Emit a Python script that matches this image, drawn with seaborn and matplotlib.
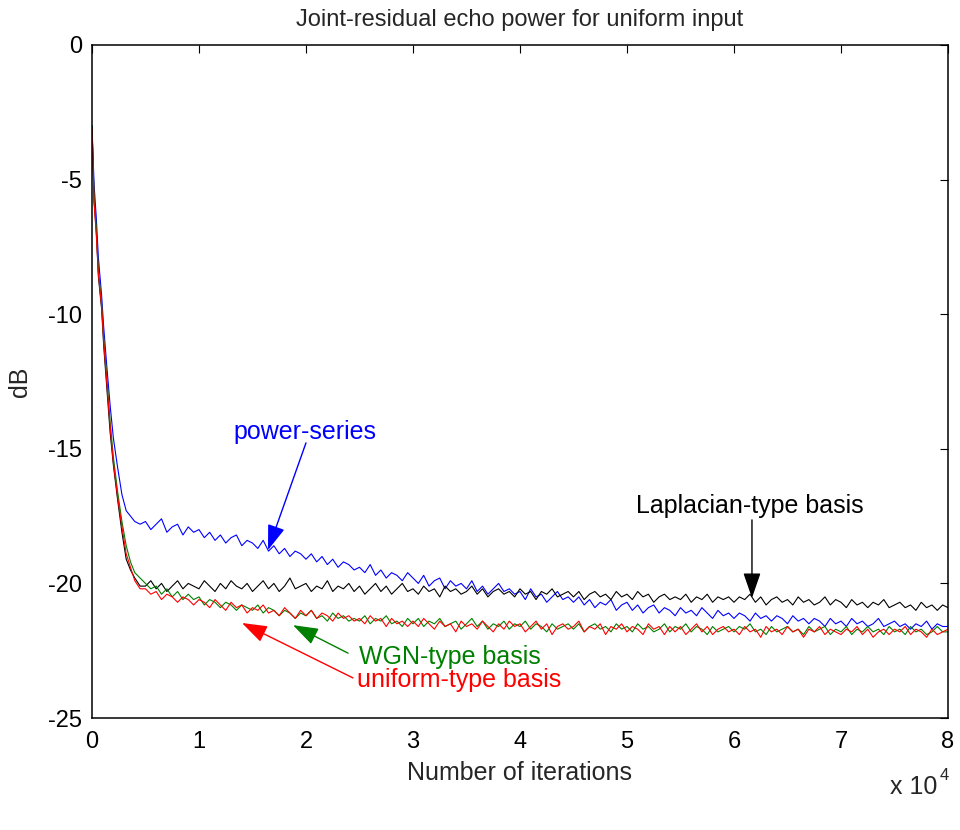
import numpy as np
import pandas as pd
import matplotlib
matplotlib.use("Agg")
import matplotlib.pyplot as plt
import seaborn as sns

sns.set_theme(style="white")
plt.rcParams['font.family'] = ['Liberation Sans', 'DejaVu Sans']

# iteration grid: dense at the start, then every 500
x_early = [0, 200, 400, 600, 900, 1100, 1400, 1700, 2000, 2400, 2800, 3200, 3600, 4000, 4500]
x_tail = list(range(5000, 80001, 500))
iters = x_early + x_tail

# values (dB)
power_series = [-3.0, -5.2, -6.4, -7.9, -9.3, -10.5, -12.0, -13.4, -14.6, -15.7, -16.7, -17.3, -17.5, -17.7, -17.8,
                -17.7, -18.0, -17.8, -17.6, -18.1, -17.9, -17.8, -18.2, -17.9, -18.1,
                -18.0, -18.3, -18.1, -18.4, -18.2, -18.5, -18.3, -18.2, -18.6, -18.4,
                -18.5, -18.7, -18.4, -18.8, -18.6, -18.9, -18.7, -19.0, -18.8, -18.9,
                -19.1, -18.9, -19.2, -19.0, -19.3, -19.1, -19.4, -19.2, -19.3, -19.5,
                -19.4, -19.6, -19.3, -19.7, -19.5, -19.8, -19.6, -19.7, -19.9, -19.6,
                -19.8, -20.0, -19.7, -20.1, -19.9, -19.8, -20.2, -19.9, -20.1, -20.0,
                -20.2, -19.9, -20.3, -20.1, -20.4, -20.2, -20.0, -20.3, -20.2, -20.4,
                -20.3, -20.6, -20.2, -20.5, -20.4, -20.7, -20.5, -20.3, -20.6, -20.5,
                -20.7, -20.5, -20.8, -20.6, -20.9, -20.7, -20.8, -20.6, -21.0, -20.8,
                -20.7, -21.0, -20.8, -21.1, -20.9, -20.8, -21.1, -20.9, -21.0, -21.2,
                -20.9, -21.1, -21.0, -21.2, -20.9, -21.1, -21.3, -21.0, -21.2, -21.1,
                -21.3, -21.1, -21.2, -21.4, -21.1, -21.3, -21.2, -21.4, -21.2, -21.3,
                -21.5, -21.2, -21.4, -21.3, -21.5, -21.3, -21.4, -21.6, -21.3, -21.5,
                -21.4, -21.6, -21.3, -21.5, -21.4, -21.6, -21.5, -21.3, -21.6, -21.5,
                -21.4, -21.6, -21.5, -21.7, -21.5, -21.6, -21.4, -21.7, -21.5, -21.6,
                -21.6]

laplacian = [-3.0, -5.8, -6.9, -8.6, -9.8, -11.2, -12.8, -14.4, -15.6, -16.9, -18.1, -19.1, -19.5, -19.8, -20.1,
             -20.1, -19.9, -20.2, -20.0, -20.3, -20.1, -19.9, -20.2, -20.0, -20.1,
             -20.2, -19.9, -20.1, -20.3, -20.0, -20.2, -19.9, -20.1, -20.2, -20.0,
             -20.3, -20.1, -19.9, -20.2, -20.0, -20.3, -20.1, -19.8, -20.2, -20.1,
             -20.0, -20.3, -20.1, -20.2, -19.9, -20.3, -20.1, -20.2, -20.0, -20.3,
             -20.1, -20.4, -20.2, -20.0, -20.3, -20.1, -20.4, -20.2, -20.0, -20.3,
             -20.2, -20.4, -20.1, -20.3, -20.2, -20.5, -20.1, -20.3, -20.2, -20.4,
             -20.3, -20.1, -20.4, -20.2, -20.5, -20.3, -20.2, -20.4, -20.3, -20.5,
             -20.2, -20.4, -20.3, -20.6, -20.3, -20.4, -20.2, -20.5, -20.4, -20.3,
             -20.5, -20.3, -20.6, -20.4, -20.3, -20.5, -20.4, -20.6, -20.3, -20.5,
             -20.4, -20.6, -20.3, -20.5, -20.4, -20.7, -20.5, -20.4, -20.6, -20.5,
             -20.6, -20.4, -20.7, -20.5, -20.6, -20.4, -20.7, -20.5, -20.6, -20.5,
             -20.7, -20.5, -20.6, -20.4, -20.7, -20.5, -20.8, -20.6, -20.5, -20.7,
             -20.6, -20.8, -20.5, -20.7, -20.6, -20.8, -20.7, -20.5, -20.8, -20.6,
             -20.7, -20.9, -20.6, -20.8, -20.7, -20.9, -20.7, -20.8, -20.6, -20.9,
             -20.8, -20.7, -20.9, -20.8, -21.0, -20.7, -20.9, -20.8, -21.0, -20.8,
             -20.9]

wgn = [-3.0, -5.7, -6.8, -8.4, -9.6, -10.9, -12.4, -14.0, -15.3, -16.6, -17.7, -18.6, -19.2, -19.6, -19.8,
       -20.0, -20.2, -20.1, -20.4, -20.2, -20.5, -20.3, -20.6, -20.4, -20.6,
       -20.5, -20.8, -20.6, -20.7, -20.9, -20.7, -20.8, -21.0, -20.8, -20.9,
       -21.0, -20.8, -21.1, -20.9, -21.0, -21.2, -21.0, -21.1, -21.3, -21.1,
       -21.2, -21.0, -21.3, -21.2, -21.4, -21.1, -21.3, -21.2, -21.4, -21.3,
       -21.4, -21.2, -21.5, -21.3, -21.4, -21.2, -21.5, -21.4, -21.6, -21.3,
       -21.5, -21.3, -21.6, -21.4, -21.5, -21.3, -21.6, -21.5, -21.4, -21.7,
       -21.5, -21.3, -21.6, -21.4, -21.7, -21.5, -21.6, -21.4, -21.7, -21.5,
       -21.6, -21.4, -21.7, -21.5, -21.6, -21.8, -21.5, -21.7, -21.6, -21.5,
       -21.7, -21.5, -21.8, -21.6, -21.5, -21.7, -21.6, -21.8, -21.5, -21.7,
       -21.6, -21.8, -21.5, -21.7, -21.6, -21.8, -21.7, -21.5, -21.8, -21.6,
       -21.7, -21.5, -21.8, -21.6, -21.7, -21.9, -21.6, -21.8, -21.7, -21.6,
       -21.8, -21.6, -21.7, -21.5, -21.8, -21.7, -21.9, -21.6, -21.8, -21.7,
       -21.6, -21.8, -21.7, -21.9, -21.6, -21.8, -21.7, -21.6, -21.9, -21.7,
       -21.8, -21.6, -21.9, -21.7, -21.8, -21.6, -21.8, -21.7, -21.9, -21.6,
       -21.8, -21.7, -21.9, -21.6, -21.8, -21.7, -21.9, -21.8, -21.6, -21.8,
       -21.8]

uniform = [-3.1, -5.9, -7.0, -8.5, -9.7, -11.0, -12.6, -14.2, -15.5, -16.8, -17.9, -18.9, -19.4, -19.9, -20.2,
           -20.2, -20.4, -20.3, -20.6, -20.4, -20.5, -20.7, -20.5, -20.6, -20.8,
           -20.6, -20.7, -20.9, -20.6, -20.8, -21.0, -20.7, -20.9, -20.8, -21.1,
           -20.9, -21.0, -20.8, -21.1, -21.0, -21.2, -20.9, -21.1, -21.3, -21.0,
           -21.2, -21.0, -21.3, -21.1, -21.2, -21.4, -21.1, -21.3, -21.2, -21.4,
           -21.3, -21.5, -21.2, -21.4, -21.3, -21.6, -21.3, -21.5, -21.4, -21.6,
           -21.4, -21.6, -21.3, -21.5, -21.7, -21.4, -21.6, -21.5, -21.8, -21.4,
           -21.6, -21.5, -21.7, -21.4, -21.6, -21.8, -21.5, -21.7, -21.4, -21.6,
           -21.5, -21.8, -21.6, -21.4, -21.7, -21.5, -21.9, -21.6, -21.5, -21.7,
           -21.6, -21.4, -21.8, -21.6, -21.7, -21.5, -21.9, -21.6, -21.7, -21.5,
           -21.8, -21.6, -21.7, -21.9, -21.5, -21.7, -21.6, -21.9, -21.6, -21.8,
           -21.6, -21.9, -21.7, -21.5, -21.8, -21.6, -21.9, -21.7, -21.6, -21.8,
           -21.7, -21.9, -21.6, -21.8, -21.7, -22.0, -21.6, -21.8, -21.7, -21.9,
           -21.6, -21.8, -21.7, -22.0, -21.7, -21.8, -21.6, -21.9, -21.7, -21.8,
           -21.9, -21.7, -21.8, -21.6, -21.9, -21.7, -22.0, -21.8, -21.7, -21.9,
           -21.7, -21.8, -21.6, -21.9, -21.7, -21.8, -22.0, -21.7, -21.9, -21.8,
           -21.7]

names = ['power-series', 'Laplacian-type basis', 'WGN-type basis', 'uniform-type basis']
colors = {'power-series': '#0000ff', 'Laplacian-type basis': '#000000',
          'WGN-type basis': '#008000', 'uniform-type basis': '#ff0000'}

df = pd.DataFrame({'iter': iters * 4,
                   'dB': power_series + laplacian + wgn + uniform,
                   'basis': sum([[n] * len(iters) for n in names], [])})

fig = plt.figure(figsize=(9.6, 8.3), dpi=100)
ax = fig.add_axes([0.0958, 0.1349, 0.8917, 0.8109])

sns.lineplot(data=df, x='iter', y='dB', hue='basis', palette=colors,
             hue_order=names, linewidth=0.8, legend=False, ax=ax)

ax.set_xlim(0, 80000)
ax.set_ylim(-25, 0)
ax.set_xticks(range(0, 80001, 10000))
ax.set_xticklabels([str(i) for i in range(9)])
ax.set_yticks([-25, -20, -15, -10, -5, 0])
ax.set_yticklabels(['-25', '-20', '-15', '-10', '-5', '0'])
ax.tick_params(direction='in', length=6, width=0.8, top=True, right=True,
               labelsize=17, colors='black')
ax.tick_params(axis='x', pad=9)
ax.tick_params(axis='y', pad=7)
for s in ax.spines.values():
    s.set_linewidth(1.1)
    s.set_color('black')

ax.set_title('Joint-residual echo power for uniform input', fontsize=17, pad=14)
ax.set_xlabel('Number of iterations', fontsize=18)
ax.set_ylabel('dB', fontsize=18)
ax.xaxis.set_label_coords(0.5, -0.064)
ax.yaxis.set_label_coords(-0.070, 0.5)
ax.text(0.932, -0.1025, 'x 10', transform=ax.transAxes, fontsize=18, va='center', ha='left')
ax.text(0.990, -0.085, '4', transform=ax.transAxes, fontsize=12, va='center', ha='left')

# annotations
def arrow(tip, tail, c):
    ax.annotate('', xy=tip, xytext=tail,
                arrowprops=dict(arrowstyle='-|>,head_length=1.3,head_width=0.45',
                                color=c, lw=1.0, mutation_scale=12, shrinkA=0, shrinkB=0))

ax.text(19860, -14.38, 'power-series', color='#0000ff', fontsize=18, ha='center', va='center')
arrow((16450, -18.76), (20000, -14.78), '#0000ff')

ax.text(61500, -17.12, 'Laplacian-type basis', color='black', fontsize=18, ha='center', va='center')
arrow((61680, -20.54), (61680, -17.64), 'black')

ax.text(33460, -22.73, 'WGN-type basis', color='#008000', fontsize=18, ha='center', va='center')
arrow((18790, -21.55), (23930, -22.59), '#008000')

ax.text(34300, -23.59, 'uniform-type basis', color='#ff0000', fontsize=18, ha='center', va='center')
arrow((14020, -21.47), (24390, -23.51), '#ff0000')

fig.savefig('out.png', dpi=100, facecolor='white')
